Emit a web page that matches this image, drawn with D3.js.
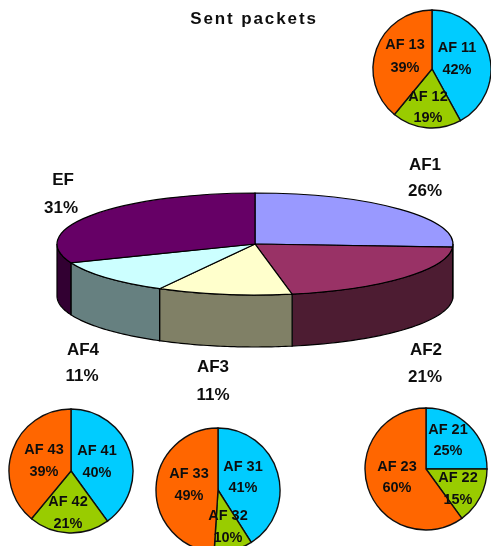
<!DOCTYPE html>
<html><head><meta charset="utf-8">
<script src="https://cdnjs.cloudflare.com/ajax/libs/d3/7.8.5/d3.min.js"></script>
<style>html,body{margin:0;padding:0;background:#fff;overflow:hidden}svg{display:block}
text{font-family:"Liberation Sans",Arial,sans-serif;font-weight:bold;fill:#111;text-anchor:middle}</style>
</head><body><svg id="c" width="491" height="546"></svg>
<script>
const mainLabels=["AF1","AF2","AF3","AF4","EF"];
const mainValues=[26,21,11,11,31];
const mainTop=["#9999ff","#993366","#ffffcc","#ccffff","#660066"];
const mainSide=["#4d4d80","#4d1a33","#808066","#668080","#330033"];
const af1Labels=["AF 11","AF 12","AF 13"];const af1Values=[42,19,39];
const af2Labels=["AF 21","AF 22","AF 23"];const af2Values=[25,15,60];
const af3Labels=["AF 31","AF 32","AF 33"];const af3Values=[41,10,49];
const af4Labels=["AF 41","AF 42","AF 43"];const af4Values=[40,21,39];
const subColors=["#00ccff","#99cc00","#ff6600"];

const svg=d3.select("#c");
svg.append("defs").append("filter").attr("id","soft").attr("x",0).attr("y",0).attr("width","100%").attr("height","100%")
  .append("feGaussianBlur").attr("stdDeviation",0.55);
const root=svg.append("g").attr("filter","url(#soft)");
root.append("rect").attr("width",491).attr("height",546).attr("fill","#fff");
const pie=d3.pie().sort(null).value(d=>d);

// main 3D pie
const M={cx:255,cy:244,rx:198,ry:51,depth:52};
const arcs=pie(mainValues);
const g3=root.append("g");
const px=a=>M.cx+M.rx*Math.sin(a), py=a=>M.cy-M.ry*Math.cos(a);
const line=d3.line();
arcs.forEach((d,i)=>{
  const a0=Math.max(d.startAngle,Math.PI/2), a1=Math.min(d.endAngle,Math.PI*1.5);
  if(a1<=a0) return;
  const as=d3.range(0,41).map(k=>a0+(a1-a0)*k/40);
  const pts=as.map(a=>[px(a),py(a)]).concat(as.slice().reverse().map(a=>[px(a),py(a)+M.depth]));
  g3.append("path").attr("d",line(pts)+"Z").attr("fill",mainSide[i]).attr("stroke","#000").attr("stroke-width",1.2);
});
const arc3=d3.arc().innerRadius(0).outerRadius(M.rx);
g3.selectAll("path.top").data(arcs).join("path").attr("class","top")
  .attr("transform",`translate(${M.cx},${M.cy}) scale(1,${M.ry/M.rx})`)
  .attr("d",arc3).attr("fill",(d,i)=>mainTop[i]).attr("stroke","#000").attr("stroke-width",1.2)
  .attr("vector-effect","non-scaling-stroke");

// main labels
const mainPos=[[425,164,190,425],[426,349,376,425],[213,366,394,213],[83,349,375,82],[63,179,207,61]];
mainLabels.forEach((l,i)=>{
  const [x,y1,y2,x2]=mainPos[i];
  root.append("text").attr("x",x).attr("y",y1+6).attr("font-size",17).text(l);
  root.append("text").attr("x",x2).attr("y",y2+6).attr("font-size",17).text(mainValues[i]+"%");
});
root.append("text").attr("x",254).attr("y",24).attr("font-size",17).attr("letter-spacing",1.9).text("Sent packets");

// detail pies
const subs=[
 {labels:af1Labels,values:af1Values,cx:432,cy:69,r:59,pos:[[457,47,69],[428,96,117],[405,44,67]]},
 {labels:af2Labels,values:af2Values,cx:426,cy:469,r:61,pos:[[448,429,450],[458,477,499],[397,466,487]]},
 {labels:af3Labels,values:af3Values,cx:218,cy:490,r:62,pos:[[243,466,487],[228,515,537],[189,473,495]]},
 {labels:af4Labels,values:af4Values,cx:71,cy:471,r:62,pos:[[97,450,472],[68,501,523],[44,449,471]]}
];
subs.forEach(s=>{
  const a=d3.arc().innerRadius(0).outerRadius(s.r);
  const g=root.append("g").attr("transform",`translate(${s.cx},${s.cy})`);
  g.selectAll("path").data(pie(s.values)).join("path").attr("d",a)
    .attr("fill",(d,i)=>subColors[i]).attr("stroke","#111").attr("stroke-width",1.4);
  s.labels.forEach((l,i)=>{
    const [x,y1,y2]=s.pos[i];
    root.append("text").attr("x",x).attr("y",y1+5).attr("font-size",14.5).text(l);
    root.append("text").attr("x",x).attr("y",y2+5).attr("font-size",14.5).text(s.values[i]+"%");
  });
});
</script></body></html>
